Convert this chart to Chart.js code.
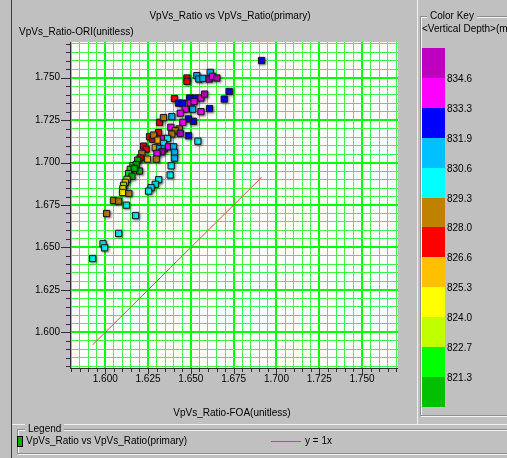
<!DOCTYPE html>
<html>
<head>
<meta charset="utf-8">
<script src="https://cdn.jsdelivr.net/npm/chart.js@4.4.1/dist/chart.umd.min.js"></script>
<style>
  html, body { margin: 0; padding: 0; }
  body {
    width: 507px; height: 458px; background: #c0c0c0; position: relative; overflow: hidden;
    font-family: "Liberation Sans", Arial, sans-serif; font-size: 10px; color: #000;
  }
  .t { position: absolute; white-space: nowrap; line-height: 12px; }
  .ln { position: absolute; }
  #cv { position: absolute; left: 0; top: 0; }
  .group { position: absolute; border: 1px solid #8c8c8c; box-shadow: inset 1px 1px 0 #f4f4f4, 1px 1px 0 #f4f4f4; }
  .gtitle { position: absolute; white-space: nowrap; line-height: 12px; background: #c0c0c0; padding: 0 3px; }
</style>
</head>
<body>
<div class="ln" style="left:11px;top:0;width:1px;height:458px;background:#3a3a3a"></div>
<div class="ln" style="left:417px;top:0;width:1px;height:424px;background:#f0f0f0"></div>
<div class="ln" style="left:12px;top:424px;width:495px;height:1px;background:#f0f0f0"></div>

<canvas id="cv" width="416" height="424"></canvas>

<div class="t" id="title" style="left:0;width:460px;text-align:center;top:10px"></div>
<div class="t" id="ytitle" style="left:19px;top:26px"></div>
<div class="t" id="xtitle" style="left:0;width:464px;text-align:center;top:407px"></div>

<!-- colour key panel -->
<div class="group" style="left:420px;top:16px;width:100px;height:398px"></div>
<div class="gtitle" style="left:427px;top:10px">Color Key</div>
<div class="t" style="left:422px;top:23px">&lt;Vertical Depth&gt;(m)</div>
<div id="keybar"></div>

<!-- legend panel -->
<div class="group" style="left:17px;top:429px;width:500px;height:23px"></div>
<div class="gtitle" style="left:25px;top:423px">Legend</div>
<div id="legend"></div>

<script>
// VpVs ratio: FOA (x) against ORI (y), each sample coloured by vertical depth (m)
const xs = [
  1.6913, 1.6477, 1.6477, 1.6535, 1.6547, 1.6570, 1.6613, 1.6607, 1.6626, 1.6652,
  1.6404, 1.6492, 1.6525, 1.6559, 1.6580, 1.6724, 1.6695, 1.6428, 1.6451, 1.6496,
  1.6519, 1.6510, 1.6467, 1.6559, 1.6609, 1.6438, 1.6317, 1.6340, 1.6389, 1.6486,
  1.6453, 1.6515, 1.6383, 1.6432, 1.6409, 1.6438, 1.6389, 1.6486, 1.6541, 1.6259,
  1.6278, 1.6311, 1.6282, 1.6308, 1.6340, 1.6364, 1.6340, 1.6224, 1.6239, 1.6292,
  1.6317, 1.6344, 1.6369, 1.6331, 1.6302, 1.6399, 1.6404, 1.6404, 1.6214, 1.6204,
  1.6247, 1.6298, 1.6189, 1.6162, 1.6181, 1.6200, 1.6146, 1.6169, 1.6136, 1.6156,
  1.6127, 1.6117, 1.6107, 1.6103, 1.6101, 1.6138, 1.6385, 1.6379, 1.6312, 1.6292,
  1.6268, 1.6253, 1.6048, 1.6078, 1.6123, 1.6008, 1.6177, 1.6078, 1.5987, 1.5996,
  1.5926
];
const ys = [
  1.7601, 1.7498, 1.7478, 1.7512, 1.7492, 1.7496, 1.7531, 1.7492, 1.7508, 1.7498,
  1.7377, 1.7380, 1.7380, 1.7380, 1.7403, 1.7419, 1.7374, 1.7350, 1.7350, 1.7350,
  1.7359, 1.7314, 1.7314, 1.7300, 1.7318, 1.7291, 1.7237, 1.7265, 1.7271, 1.7257,
  1.7237, 1.7243, 1.7208, 1.7198, 1.7188, 1.7172, 1.7168, 1.7158, 1.7126, 1.7152,
  1.7137, 1.7176, 1.7162, 1.7132, 1.7142, 1.7142, 1.7113, 1.7097, 1.7079, 1.7087,
  1.7083, 1.7081, 1.7093, 1.7063, 1.7054, 1.7093, 1.7060, 1.7026, 1.7054, 1.7027,
  1.7020, 1.7020, 1.7014, 1.6982, 1.6988, 1.6950, 1.6960, 1.6966, 1.6935, 1.6919,
  1.6901, 1.6883, 1.6866, 1.6846, 1.6824, 1.6818, 1.6981, 1.6927, 1.6899, 1.6872,
  1.6852, 1.6832, 1.6777, 1.6773, 1.6749, 1.6700, 1.6688, 1.6583, 1.6522, 1.6498,
  1.6435
];
const depths = [
  832.6, 827.3, 827.3, 831.2, 831.2, 831.2, 831.2, 835.2, 833.9, 835.2,
  827.3, 832.6, 832.6, 833.9, 835.2, 832.6, 832.6, 832.6, 832.6, 833.9,
  833.9, 831.2, 833.9, 833.9, 832.6, 833.9, 827.3, 828.6, 831.2, 832.6,
  833.9, 832.6, 833.9, 828.6, 828.6, 835.2, 828.6, 832.6, 830.0, 827.3,
  827.3, 827.3, 828.6, 826.0, 833.9, 830.0, 830.0, 827.3, 827.3, 826.0,
  831.2, 831.2, 833.9, 835.2, 833.9, 831.2, 831.2, 831.2, 828.6, 827.3,
  826.0, 828.6, 820.6, 822.0, 820.6, 820.6, 822.0, 820.6, 822.0, 820.6,
  823.3, 824.6, 823.3, 824.6, 824.6, 828.6, 830.0, 830.0, 830.0, 830.0,
  830.0, 830.0, 828.6, 828.6, 830.0, 828.6, 830.0, 830.0, 830.0, 830.0,
  830.0
];

// depth colour key, shallow to deep
const keyColors = ['#00c000', '#00ff00', '#c0ff00', '#ffff00', '#ffc000', '#ff0000',
                   '#c08000', '#00ffff', '#00c0ff', '#0000ff', '#ff00ff', '#c000c0'];
const keyBreaks = [821.3, 822.7, 824.0, 825.3, 826.6, 828.0, 829.3, 830.6, 831.9, 833.3, 834.6];

const tickLabels = ['1.600', '1.625', '1.650', '1.675', '1.700', '1.725', '1.750'];
const xRange = [1.580, 1.771];
const yRange = [1.579, 1.771];
const minorStep = 0.005;

const chartTitle = 'VpVs_Ratio vs VpVs_Ratio(primary)';
const xTitle = 'VpVs_Ratio-FOA(unitless)';
const yTitle = 'VpVs_Ratio-ORI(unitless)';
const seriesName = 'VpVs_Ratio vs VpVs_Ratio(primary)';
const refName = 'y = 1x';
const refColor = '#f03c3c';

function colorFor(d) {
  let i = 0;
  while (i < keyBreaks.length && d >= keyBreaks[i]) i++;
  return keyColors[i];
}
function gridValues(range) {
  const out = [];
  const first = Math.ceil(range[0] / minorStep - 1e-9);
  const last = Math.floor(range[1] / minorStep + 1e-9);
  for (let k = first; k <= last; k++) out.push(+(k * minorStep).toFixed(3));
  return out;
}
const isMajor = v => tickLabels.includes(v.toFixed(3));

document.getElementById('title').textContent = chartTitle;
document.getElementById('xtitle').textContent = xTitle;
document.getElementById('ytitle').textContent = yTitle;

// colour bar (deepest at the top) with depth labels on the class boundaries
(function buildKey() {
  const host = document.getElementById('keybar');
  const top = 48, seg = 29.9, left = 422, w = 23;
  const colsTopDown = keyColors.slice().reverse();
  colsTopDown.forEach((c, i) => {
    const d = document.createElement('div');
    const y0 = Math.round(top + i * seg), y1 = Math.round(top + (i + 1) * seg);
    d.className = 'ln';
    d.style.cssText = `left:${left}px;top:${y0}px;width:${w}px;height:${y1 - y0}px;background:${c}`;
    host.appendChild(d);
  });
  keyBreaks.slice().reverse().forEach((b, i) => {
    const d = document.createElement('div');
    d.className = 't';
    const yc = top + (i + 1) * seg + 1;
    d.style.cssText = `left:447px;top:${Math.round(yc - 6)}px`;
    d.textContent = b.toFixed(1);
    host.appendChild(d);
  });
})();

(function buildLegend() {
  const host = document.getElementById('legend');
  const icon = document.createElement('div');
  icon.className = 'ln';
  icon.style.cssText = 'left:17px;top:436px;width:4px;height:9px;background:#00b000;border:1px solid #000';
  const name = document.createElement('div');
  name.className = 't';
  name.style.cssText = 'left:26px;top:435px';
  name.textContent = seriesName;
  const swatch = document.createElement('div');
  swatch.className = 'ln';
  swatch.style.cssText = 'left:271px;top:441px;width:30px;height:1px';
  swatch.style.backgroundColor = refColor;
  const ref = document.createElement('div');
  ref.className = 't';
  ref.style.cssText = 'left:305px;top:435px';
  ref.textContent = refName;
  [icon, name, swatch, ref].forEach(e => host.appendChild(e));
})();

const points = xs.map((x, i) => ({ x, y: ys[i] }));
const xMin = Math.min(...xs), xMax = Math.max(...xs);

const plotDecor = {
  id: 'plotDecor',
  beforeDraw(chart) {
    const { ctx, chartArea: a } = chart;
    ctx.save();
    ctx.fillStyle = '#ffffff';
    ctx.fillRect(a.left, a.top, a.right - a.left, a.bottom - a.top);
    ctx.restore();
  },
  beforeDatasetDraw(chart, args) {
    if (args.index === 0) {
      const c = chart.ctx;
      c.save();
      c.shadowColor = 'rgba(0,0,0,0.5)';
      c.shadowBlur = 2.5;
      c.shadowOffsetX = 1;
      c.shadowOffsetY = 1;
    }
  },
  afterDatasetDraw(chart, args) {
    if (args.index === 0) chart.ctx.restore();
  },
  afterDraw(chart) {
    const { ctx, chartArea: a, scales } = chart;
    ctx.save();
    ctx.strokeStyle = '#303030';
    ctx.lineWidth = 1;
    ctx.beginPath();
    ctx.moveTo(a.left - 0.5, a.top);
    ctx.lineTo(a.left - 0.5, a.bottom + 1);
    ctx.moveTo(a.left - 1, a.bottom + 0.5);
    ctx.lineTo(a.right, a.bottom + 0.5);
    scales.x.ticks.forEach(t => {
      const px = Math.round(scales.x.getPixelForValue(t.value)) + 0.5;
      const len = isMajor(t.value) ? 6 : 4;
      ctx.moveTo(px, a.bottom);
      ctx.lineTo(px, a.bottom + len);
    });
    scales.y.ticks.forEach(t => {
      const py = Math.round(scales.y.getPixelForValue(t.value)) + 0.5;
      const len = isMajor(t.value) ? 10 : 5;
      ctx.moveTo(a.left - len, py);
      ctx.lineTo(a.left, py);
    });
    ctx.stroke();
    ctx.restore();
  }
};

const gridOpts = {
  color: ctx => isMajor(ctx.tick.value) ? '#00ff00' : '#40f840',
  lineWidth: ctx => isMajor(ctx.tick.value) ? 2 : 1,
  drawTicks: false
};
const tickFont = { family: '"Liberation Sans", Arial, sans-serif', size: 10 };

new Chart(document.getElementById('cv'), {
  type: 'scatter',
  data: {
    datasets: [
      {
        label: seriesName,
        data: points,
        pointStyle: 'rect',
        pointRadius: 4.4,
        pointHoverRadius: 4.4,
        borderWidth: 1,
        borderColor: '#1a1a1a',
        backgroundColor: depths.map(colorFor)
      },
      {
        label: refName,
        data: [{ x: xMin, y: xMin }, { x: xMax, y: xMax }],
        showLine: true,
        pointRadius: 0,
        borderWidth: 1,
        borderColor: refColor
      }
    ]
  },
  plugins: [plotDecor],
  options: {
    responsive: false,
    animation: false,
    devicePixelRatio: 1,
    layout: { padding: { left: 0, top: 42, right: 18, bottom: 31 } },
    plugins: { legend: { display: false }, tooltip: { enabled: false } },
    scales: {
      x: {
        type: 'linear',
        min: xRange[0], max: xRange[1],
        afterBuildTicks: s => { s.ticks = gridValues(xRange).map(v => ({ value: v })); },
        afterFit: s => { s.height = 25; s.paddingLeft = 0; s.paddingRight = 0; },
        ticks: {
          autoSkip: false, maxRotation: 0, minRotation: 0, padding: 5,
          color: '#000', font: tickFont,
          callback: v => isMajor(v) ? v.toFixed(3) : ''
        },
        grid: gridOpts,
        border: { display: false }
      },
      y: {
        type: 'linear',
        min: yRange[0], max: yRange[1],
        afterBuildTicks: s => { s.ticks = gridValues(yRange).map(v => ({ value: v })); },
        afterFit: s => { s.width = 71; s.paddingTop = 0; s.paddingBottom = 0; },
        ticks: {
          autoSkip: false, padding: 11,
          color: '#000', font: tickFont,
          callback: v => isMajor(v) ? v.toFixed(3) : ''
        },
        grid: gridOpts,
        border: { display: false }
      }
    }
  }
});
</script>
</body>
</html>
